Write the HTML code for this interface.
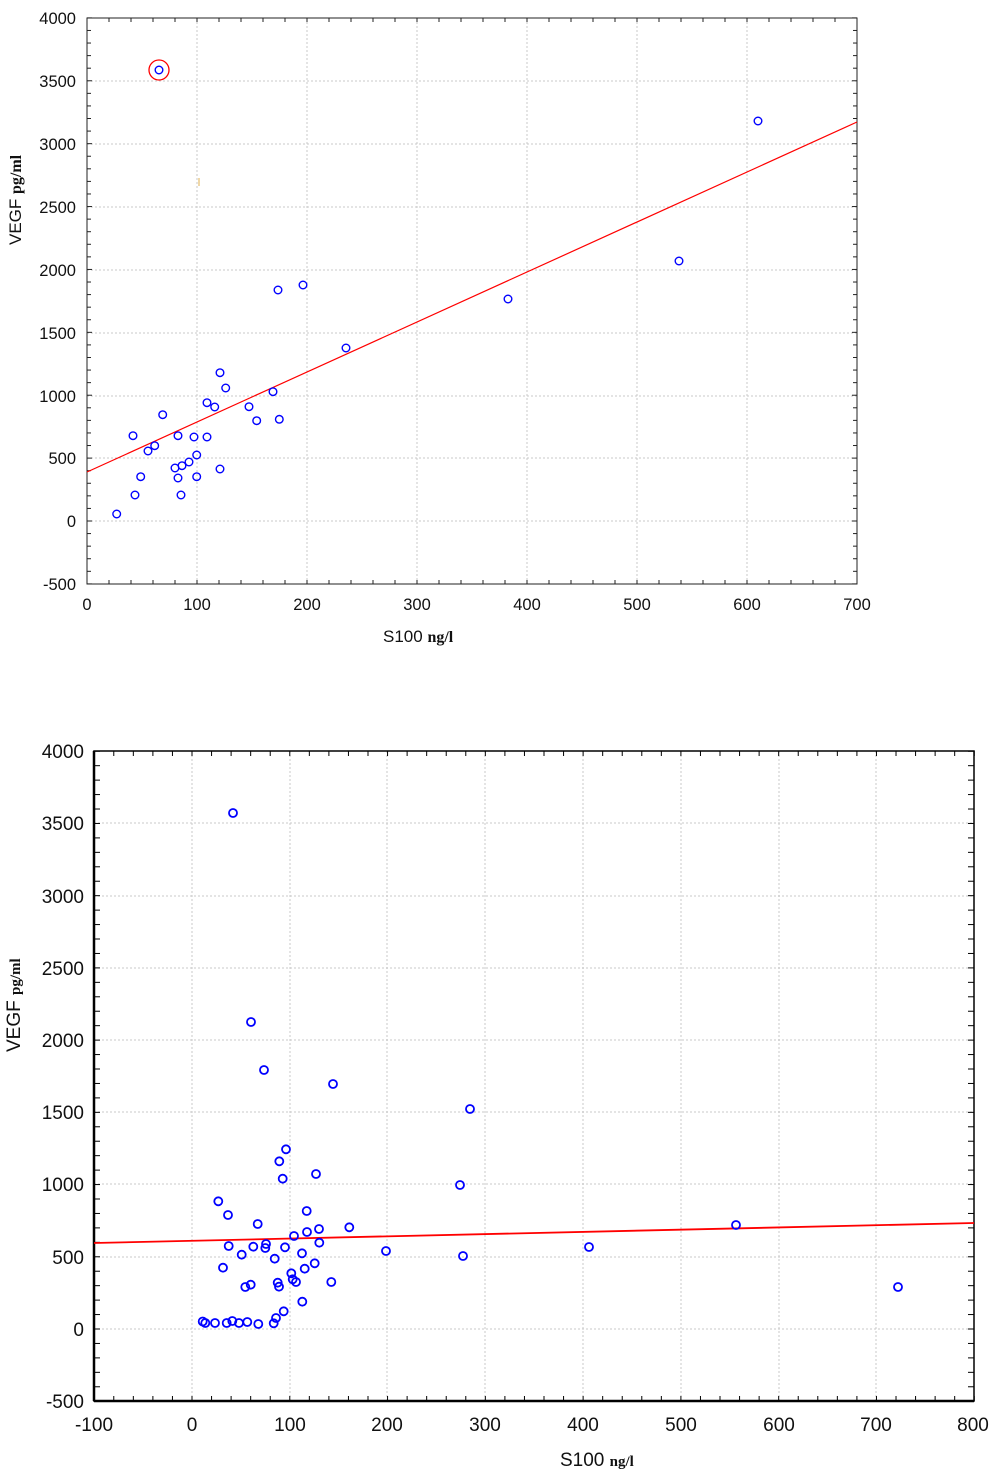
<!DOCTYPE html>
<html><head><meta charset="utf-8"><style>
body{margin:0;background:#fff}
svg{display:block}
text{font-family:"Liberation Sans",sans-serif;fill:#111}
.s{font-family:"Liberation Serif",serif}
</style></head><body>
<svg width="1000" height="1472" xmlns="http://www.w3.org/2000/svg">
<g id="top">
<g stroke="#c8c8c8" stroke-width="1" stroke-dasharray="2,2">
<line x1="197" y1="18" x2="197" y2="584"/><line x1="307" y1="18" x2="307" y2="584"/><line x1="417" y1="18" x2="417" y2="584"/><line x1="527" y1="18" x2="527" y2="584"/><line x1="637" y1="18" x2="637" y2="584"/><line x1="747" y1="18" x2="747" y2="584"/>
<line x1="87" y1="81" x2="857" y2="81"/><line x1="87" y1="144" x2="857" y2="144"/><line x1="87" y1="207" x2="857" y2="207"/><line x1="87" y1="270" x2="857" y2="270"/><line x1="87" y1="333" x2="857" y2="333"/><line x1="87" y1="396" x2="857" y2="396"/><line x1="87" y1="458" x2="857" y2="458"/><line x1="87" y1="521" x2="857" y2="521"/>
</g>
<rect x="87" y="18" width="770" height="566" fill="none" stroke="#222" stroke-width="1"/>
<g id="tt" stroke="#222" stroke-width="1"></g>
<line x1="87" y1="472" x2="857" y2="122" stroke="#f00" stroke-width="1.2"/>
<circle cx="159" cy="70" r="10" fill="none" stroke="#f00" stroke-width="1.3"/>
<rect x="198" y="178" width="2" height="8" fill="#f0d8a8"/>
<g fill="none" stroke="#00f" stroke-width="1.4" id="tp"></g>
<g font-size="16.5" text-anchor="end">
<text x="76" y="24">4000</text><text x="76" y="87">3500</text><text x="76" y="150">3000</text><text x="76" y="213">2500</text><text x="76" y="276">2000</text><text x="76" y="339">1500</text><text x="76" y="402">1000</text><text x="76" y="464">500</text><text x="76" y="527">0</text><text x="76" y="590">-500</text>
</g>
<g font-size="16.5" text-anchor="middle">
<text x="87" y="610">0</text><text x="197" y="610">100</text><text x="307" y="610">200</text><text x="417" y="610">300</text><text x="527" y="610">400</text><text x="637" y="610">500</text><text x="747" y="610">600</text><text x="857" y="610">700</text>
</g>
<text x="383" y="642" font-size="17">S100 <tspan class="s" font-size="16" font-weight="bold">ng/l</tspan></text>
<text transform="translate(21,245) rotate(-90)" font-size="17">VEGF <tspan class="s" font-size="16" font-weight="bold">pg/ml</tspan></text>
</g>
<g id="bot">
<g stroke="#c8c8c8" stroke-width="1" stroke-dasharray="2,2">
<line x1="192" y1="751" x2="192" y2="1401"/><line x1="290" y1="751" x2="290" y2="1401"/><line x1="387" y1="751" x2="387" y2="1401"/><line x1="485" y1="751" x2="485" y2="1401"/><line x1="583" y1="751" x2="583" y2="1401"/><line x1="681" y1="751" x2="681" y2="1401"/><line x1="779" y1="751" x2="779" y2="1401"/><line x1="876" y1="751" x2="876" y2="1401"/>
<line x1="94" y1="823" x2="974" y2="823"/><line x1="94" y1="896" x2="974" y2="896"/><line x1="94" y1="968" x2="974" y2="968"/><line x1="94" y1="1040" x2="974" y2="1040"/><line x1="94" y1="1112" x2="974" y2="1112"/><line x1="94" y1="1184" x2="974" y2="1184"/><line x1="94" y1="1257" x2="974" y2="1257"/><line x1="94" y1="1329" x2="974" y2="1329"/>
</g>
<rect x="94" y="751" width="880" height="650" fill="none" stroke="#000" stroke-width="1.5"/>
<line x1="94" y1="751" x2="94" y2="1401" stroke="#000" stroke-width="2.5"/>
<line x1="94" y1="1401" x2="974" y2="1401" stroke="#000" stroke-width="2.5"/>
<g id="bt" stroke="#000" stroke-width="1"></g>
<line x1="94" y1="1243" x2="974" y2="1223" stroke="#f00" stroke-width="1.8"/>
<g fill="none" stroke="#00f" stroke-width="1.8" id="bp"></g>
<g font-size="19" text-anchor="end">
<text x="84" y="758">4000</text><text x="84" y="830">3500</text><text x="84" y="903">3000</text><text x="84" y="975">2500</text><text x="84" y="1047">2000</text><text x="84" y="1119">1500</text><text x="84" y="1191">1000</text><text x="84" y="1264">500</text><text x="84" y="1336">0</text><text x="84" y="1408">-500</text>
</g>
<g font-size="19" text-anchor="middle">
<text x="94" y="1431">-100</text><text x="192" y="1431">0</text><text x="290" y="1431">100</text><text x="387" y="1431">200</text><text x="485" y="1431">300</text><text x="583" y="1431">400</text><text x="681" y="1431">500</text><text x="779" y="1431">600</text><text x="876" y="1431">700</text><text x="973" y="1431">800</text>
</g>
<text x="560" y="1466" font-size="19">S100 <tspan class="s" font-size="15" font-weight="bold">ng/l</tspan></text>
<text transform="translate(20,1052) rotate(-90)" font-size="19">VEGF <tspan class="s" font-size="15" font-weight="bold">pg/ml</tspan></text>
</g>
</svg>
<script>
var NS="http://www.w3.org/2000/svg";
function c(g,x,y,r){var e=document.createElementNS(NS,"circle");e.setAttribute("cx",x);e.setAttribute("cy",y);e.setAttribute("r",r);g.appendChild(e);}
function l(g,a,b,cc,d){var e=document.createElementNS(NS,"line");e.setAttribute("x1",a);e.setAttribute("y1",b);e.setAttribute("x2",cc);e.setAttribute("y2",d);g.appendChild(e);}
var tp=document.getElementById("tp");
[[116.7,514],[135,495],[140.7,476.7],[133,435.7],[148,451],[154.7,445.7],[162.7,414.7],[175,468],[178,478],[181,495],[182,465.7],[178,435.7],[189,462],[196.7,455],[196.7,476.7],[194,437],[207,437],[207,402.7],[214.7,407],[220,372.7],[225.7,388],[220,469],[249,406.7],[256.7,420.7],[273,391.7],[279.3,419.3],[159,70],[278,290],[303,285],[346,348],[508,299],[679,261],[758,121]].forEach(function(p){c(tp,p[0],p[1],3.8)});
var bp=document.getElementById("bp");
[[286,1149.3],[279.3,1161.3],[282.7,1178.7],[316,1174],[218.3,1201.3],[228,1215],[257.7,1224],[306.7,1211],[349.3,1227.3],[319,1229],[307,1232],[294,1236],[228.7,1246],[253.3,1246.7],[266,1244],[265.3,1248],[285,1247.3],[319.3,1242.7],[302,1253.3],[241.7,1254.7],[274.7,1258.7],[223,1267.7],[314.7,1263.3],[304.7,1268.7],[291.3,1273.3],[292.7,1279.3],[296,1282],[245.3,1287],[250.7,1284.7],[277.7,1282.7],[279,1286.7],[331.3,1282],[302.3,1301.7],[283.7,1311.3],[276,1318],[273.7,1323.3],[202.7,1321.5],[205.3,1323],[215,1323],[226.7,1323],[232.3,1321],[239,1323],[247.3,1322],[258.3,1324],[233,813],[251,1022],[264,1070],[333,1084],[470,1109],[460,1185],[463,1256],[386,1251],[589,1247],[736,1225],[898,1287]].forEach(function(p){c(bp,p[0],p[1],4)});
var tt=document.getElementById("tt");
for(var v=-500;v<=4000;v+=100){var y=521-v*0.12578;var L=(v%500==0)?5:4;l(tt,87,y,87+L,y);l(tt,857,y,857-L,y);}
for(var u=0;u<=700;u+=20){var x=87+u*1.1;l(tt,x,18,x,22);l(tt,x,584,x,580);}
var bt=document.getElementById("bt");
for(var v=-500;v<=4000;v+=100){var y=1329-v*0.14444;l(bt,94,y,100,y);l(bt,974,y,968,y);}
for(var u=-100;u<=800;u+=20){var x=192+u*0.9778;l(bt,x,751,x,756);l(bt,x,1401,x,1396);}
</script>
</body></html>
